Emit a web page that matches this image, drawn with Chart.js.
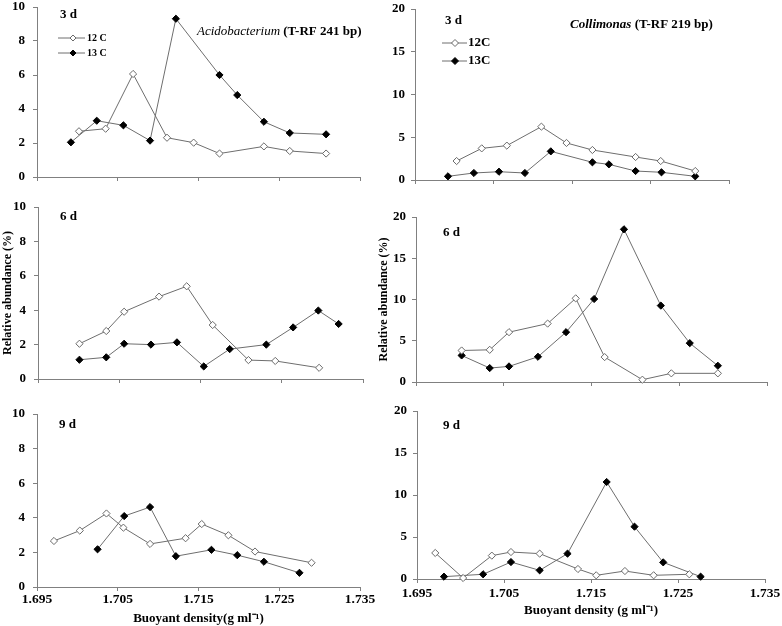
<!DOCTYPE html>
<html><head><meta charset="utf-8">
<script src="https://cdn.jsdelivr.net/npm/chart.js@4.4.1/dist/chart.umd.min.js"></script>
<style>
html,body{margin:0;padding:0;background:#fff;overflow:hidden;width:782px;height:626px}
canvas{position:absolute;left:0;top:0}
</style></head><body>
<canvas id="p0" width="782" height="626"></canvas>
<canvas id="p1" width="782" height="626"></canvas>
<canvas id="p2" width="782" height="626"></canvas>
<canvas id="p3" width="782" height="626"></canvas>
<canvas id="p4" width="782" height="626"></canvas>
<canvas id="p5" width="782" height="626"></canvas>
<script>
// ---- data ----
const seriesLabelsLeft = ['12 C', '13 C'];
const seriesLabelsRight = ['12C', '13C'];
const xTickValues = [1.695, 1.705, 1.715, 1.725, 1.735];
const yTicksLeft = [0, 2, 4, 6, 8, 10];
const yTicksRight = [0, 5, 10, 15, 20];
const panelDays = ['3 d', '6 d', '9 d'];
const titleAcido = ['Acidobacterium', ' (T-RF 241 bp)'];
const titleColli = ['Collimonas', ' (T-RF 219 bp)'];
const yAxisTitle = 'Relative abundance (%)';
const xAxisTitleLeft = 'Buoyant density(g ml\u207B\u00B9)';
const xAxisTitleRight = 'Buoyant density (g ml\u207B\u00B9)';

const acido3_12x = [1.7002,1.7035,1.7069,1.7111,1.7144,1.7176,1.7231,1.7263,1.7308];
const acido3_12y = [2.69,2.84,6.06,2.31,2.02,1.38,1.80,1.53,1.38];
const acido3_13x = [1.6992,1.7024,1.7057,1.7090,1.7122,1.7176,1.7198,1.7231,1.7263,1.7308];
const acido3_13y = [2.04,3.31,3.04,2.14,9.31,6.00,4.82,3.25,2.59,2.51];

const colli3_12x = [1.7003,1.7035,1.7067,1.7111,1.7143,1.7176,1.7231,1.7263,1.7307];
const colli3_12y = [2.22,3.70,4.02,6.24,4.33,3.51,2.69,2.22,1.05];
const colli3_13x = [1.6992,1.7025,1.7057,1.7090,1.7123,1.7176,1.7197,1.7231,1.7264,1.7307];
const colli3_13y = [0.43,0.82,0.97,0.82,3.35,2.07,1.83,1.05,0.90,0.43];

const acido6_12x = [1.7001,1.7034,1.7056,1.7099,1.7133,1.7165,1.7209,1.7242,1.7296];
const acido6_12y = [2.05,2.79,3.91,4.79,5.39,3.14,1.10,1.05,0.65];
const acido6_13x = [1.7001,1.7034,1.7056,1.7089,1.7121,1.7154,1.7186,1.7231,1.7264,1.7295,1.7320];
const acido6_13y = [1.12,1.26,2.05,2.00,2.13,0.73,1.74,2.00,3.00,3.98,3.20];

const colli6_12x = [1.7002,1.7034,1.7056,1.7100,1.7132,1.7165,1.7208,1.7241,1.7294];
const colli6_12y = [3.82,3.90,6.04,7.08,10.14,3.02,0.28,1.05,1.05];
const colli6_13x = [1.7002,1.7034,1.7056,1.7089,1.7121,1.7153,1.7187,1.7229,1.7262,1.7294];
const colli6_13y = [3.22,1.69,1.89,3.06,6.04,10.06,18.51,9.26,4.71,1.97];

const acido9_12x = [1.6971,1.7003,1.7036,1.7057,1.7090,1.7134,1.7154,1.7187,1.7220,1.7290];
const acido9_12y = [2.66,3.26,4.25,3.43,2.49,2.82,3.64,2.99,2.05,1.40];
const acido9_13x = [1.7025,1.7058,1.7090,1.7122,1.7166,1.7198,1.7231,1.7275];
const acido9_13y = [2.18,4.10,4.62,1.78,2.15,1.84,1.46,0.82];

const colli9_12x = [1.6971,1.7003,1.7036,1.7058,1.7091,1.7135,1.7156,1.7189,1.7222,1.7263];
const colli9_12y = [3.10,0.12,2.78,3.21,3.02,1.19,0.44,0.95,0.44,0.56];
const colli9_13x = [1.6981,1.7026,1.7058,1.7091,1.7123,1.7168,1.7200,1.7233,1.7276];
const colli9_13y = [0.28,0.56,2.02,1.03,3.02,11.55,6.23,1.98,0.28];

// ---- styling / layout ----
const SERIF = "'Liberation Serif','Times New Roman',serif";
const AXIS = '#808080';
const LINE = '#6e6e6e';
const W = 782, H = 626;

function pts(xs, ys) { return xs.map((x, i) => ({x: x, y: ys[i]})); }

const decoPlugin = {
  id: 'deco',
  afterDraw(chart, args, o) {
    const ctx = chart.ctx;
    ctx.save();
    ctx.textBaseline = 'middle';
    ctx.textAlign = 'left';
    ctx.fillStyle = '#000';
    (o.texts || []).forEach(t => {
      let x = t.x;
      t.parts.forEach(p => {
        ctx.font = p.font;
        ctx.fillText(p.text, x, t.y);
        x += ctx.measureText(p.text).width;
      });
    });
    if (o.legend) {
      const lg = o.legend;
      chart.data.datasets.forEach((ds, i) => {
        const y = lg.y + i * lg.dy;
        ctx.strokeStyle = ds.borderColor; ctx.lineWidth = 1;
        ctx.beginPath(); ctx.moveTo(lg.x1, y); ctx.lineTo(lg.x2, y); ctx.stroke();
        const r = lg.r, cx = lg.cx;
        ctx.beginPath();
        ctx.moveTo(cx, y - r); ctx.lineTo(cx + r, y); ctx.lineTo(cx, y + r); ctx.lineTo(cx - r, y);
        ctx.closePath();
        ctx.fillStyle = ds.pointBackgroundColor; ctx.fill();
        ctx.strokeStyle = ds.pointBorderColor; ctx.stroke();
        ctx.font = lg.font; ctx.fillStyle = '#000';
        ctx.fillText(ds.label, lg.tx, y);
      });
    }
    ctx.restore();
  }
};

function makePanel(id, p) {
  const yw = p.yw, xh = p.xh;
  const datasets = [
    {label: p.labels[0], data: pts(p.s12[0], p.s12[1]), showLine: true, borderColor: LINE, borderWidth: 1,
     pointStyle: 'rectRot', pointRadius: 3.6, pointBackgroundColor: '#ffffff', pointBorderColor: '#6a6a6a', pointBorderWidth: 1, clip: false},
    {label: p.labels[1], data: pts(p.s13[0], p.s13[1]), showLine: true, borderColor: LINE, borderWidth: 1,
     pointStyle: 'rectRot', pointRadius: 3.6, pointBackgroundColor: '#000000', pointBorderColor: '#000000', pointBorderWidth: 1, clip: false}
  ];
  const yt = p.yTicks;
  new Chart(document.getElementById(id), {
    type: 'scatter',
    data: {datasets},
    plugins: [decoPlugin],
    options: {
      responsive: false, animation: false, devicePixelRatio: 1,
      layout: {padding: {left: p.L - yw, top: p.T, right: W - p.R, bottom: H - p.B - xh}},
      plugins: {legend: {display: false}, tooltip: {enabled: false}, deco: p.deco},
      scales: {
        x: {
          type: 'linear', min: xTickValues[0], max: xTickValues[xTickValues.length - 1],
          afterBuildTicks: s => { s.ticks = xTickValues.map(v => ({value: v})); },
          ticks: {display: !!p.showX, maxRotation: 0, autoSkip: false, padding: p.xpad,
                  font: {family: SERIF, size: 13.5, weight: 'bold'}, color: '#000',
                  callback: v => Number(v).toFixed(3)},
          grid: {display: true, drawOnChartArea: false, drawTicks: true, tickLength: 4, color: AXIS},
          border: {display: true, color: AXIS, width: 1},
          title: {display: !!p.xTitle, text: p.xTitle || '', padding: {top: 0, bottom: 0},
                  font: {family: SERIF, size: 13, weight: 'bold'}, color: '#000'},
          afterFit: s => { s.height = xh; s.paddingLeft = 0; s.paddingRight = 0; }
        },
        y: {
          type: 'linear', min: yt[0], max: yt[yt.length - 1],
          afterBuildTicks: s => { s.ticks = yt.map(v => ({value: v})); },
          ticks: {padding: p.ypad, font: {family: SERIF, size: 13, weight: 'bold'}, color: '#000'},
          grid: {display: true, drawOnChartArea: false, drawTicks: true, tickLength: 4, color: AXIS},
          border: {display: true, color: AXIS, width: 1},
          title: {display: !!p.yTitle, text: p.yTitle || '', padding: {top: 1, bottom: 0},
                  font: {family: SERIF, size: 12, weight: 'bold'}, color: '#000'},
          afterFit: s => { s.width = yw; s.paddingTop = 0; s.paddingBottom = 0; }
        }
      }
    }
  });
}

const bold13 = 'bold 13px ' + SERIF;

makePanel('p0', {L: 37, R: 360, T: 7, B: 177, yw: 30, xh: 18, xpad: 0, ypad: 8, yTicks: yTicksLeft,
  labels: seriesLabelsLeft, s12: [acido3_12x, acido3_12y], s13: [acido3_13x, acido3_13y],
  deco: {texts: [{x: 60, y: 15, parts: [{text: panelDays[0], font: bold13}]},
                 {x: 197, y: 32, parts: [{text: titleAcido[0], font: 'italic 13px ' + SERIF}, {text: titleAcido[1], font: bold13}]}],
         legend: {x1: 58, x2: 85, cx: 73, r: 3, tx: 87, y: 38, dy: 15, font: 'bold 10px ' + SERIF}}});

makePanel('p1', {L: 415, R: 729, T: 9, B: 180, yw: 30, xh: 18, xpad: 0, ypad: 6, yTicks: yTicksRight,
  labels: seriesLabelsRight, s12: [colli3_12x, colli3_12y], s13: [colli3_13x, colli3_13y],
  deco: {texts: [{x: 445, y: 21, parts: [{text: panelDays[0], font: bold13}]},
                 {x: 570, y: 25, parts: [{text: titleColli[0], font: 'italic bold 13px ' + SERIF}, {text: titleColli[1], font: bold13}]}],
         legend: {x1: 442, x2: 467, cx: 455, r: 3.5, tx: 468, y: 43, dy: 18, font: 'bold 13px ' + SERIF}}});

makePanel('p2', {L: 38, R: 363, T: 207, B: 379, yw: 38, xh: 18, xpad: 0, ypad: 8, yTicks: yTicksLeft,
  yTitle: yAxisTitle,
  labels: seriesLabelsLeft, s12: [acido6_12x, acido6_12y], s13: [acido6_13x, acido6_13y],
  deco: {texts: [{x: 60, y: 217, parts: [{text: panelDays[1], font: bold13}]}]}});

makePanel('p3', {L: 416, R: 767, T: 217, B: 382, yw: 40, xh: 18, xpad: 0, ypad: 6, yTicks: yTicksRight,
  yTitle: yAxisTitle,
  labels: seriesLabelsRight, s12: [colli6_12x, colli6_12y], s13: [colli6_13x, colli6_13y],
  deco: {texts: [{x: 443, y: 233, parts: [{text: panelDays[1], font: bold13}]}]}});

makePanel('p4', {L: 37, R: 360, T: 414, B: 587, yw: 30, xh: 39, xpad: 0, ypad: 8, yTicks: yTicksLeft,
  showX: true, xTitle: xAxisTitleLeft,
  labels: seriesLabelsLeft, s12: [acido9_12x, acido9_12y], s13: [acido9_13x, acido9_13y],
  deco: {texts: [{x: 59, y: 425, parts: [{text: panelDays[2], font: bold13}]}]}});

makePanel('p5', {L: 417, R: 765, T: 411, B: 579, yw: 30, xh: 39, xpad: 2, ypad: 6, yTicks: yTicksRight,
  showX: true, xTitle: xAxisTitleRight,
  labels: seriesLabelsRight, s12: [colli9_12x, colli9_12y], s13: [colli9_13x, colli9_13y],
  deco: {texts: [{x: 443, y: 426, parts: [{text: panelDays[2], font: bold13}]}]}});
</script>
</body></html>
